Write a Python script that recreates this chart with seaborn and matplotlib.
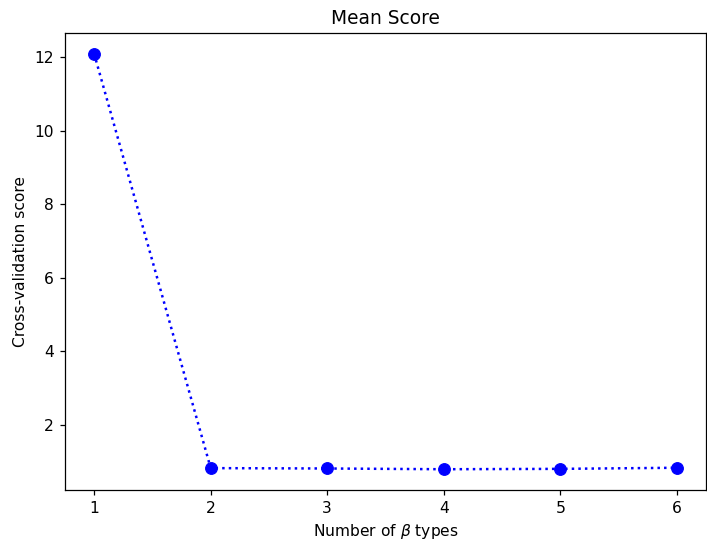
import matplotlib
matplotlib.use("Agg")
import matplotlib.pyplot as plt
import seaborn as sns
import pandas as pd

n_types = [1, 2, 3, 4, 5, 6]
scores = [12.1, 0.82, 0.81, 0.79, 0.80, 0.83]

df = pd.DataFrame({"n": n_types, "score": scores})

DPI = 112
fig, ax = plt.subplots(figsize=(707 / DPI, 542 / DPI), dpi=DPI)
sns.lineplot(data=df, x="n", y="score", ax=ax, color="blue", linestyle=":",
             marker="o", markersize=7.5, markeredgecolor="blue", linewidth=1.6)
ax.set_title("Mean Score")
ax.set_xlabel(r"Number of $\beta$ types")
ax.set_ylabel("Cross-validation score")
fig.subplots_adjust(left=65 / 707, right=706 / 707, top=1 - 33 / 542, bottom=1 - 490 / 542)
fig.savefig("out.png", dpi=DPI)
